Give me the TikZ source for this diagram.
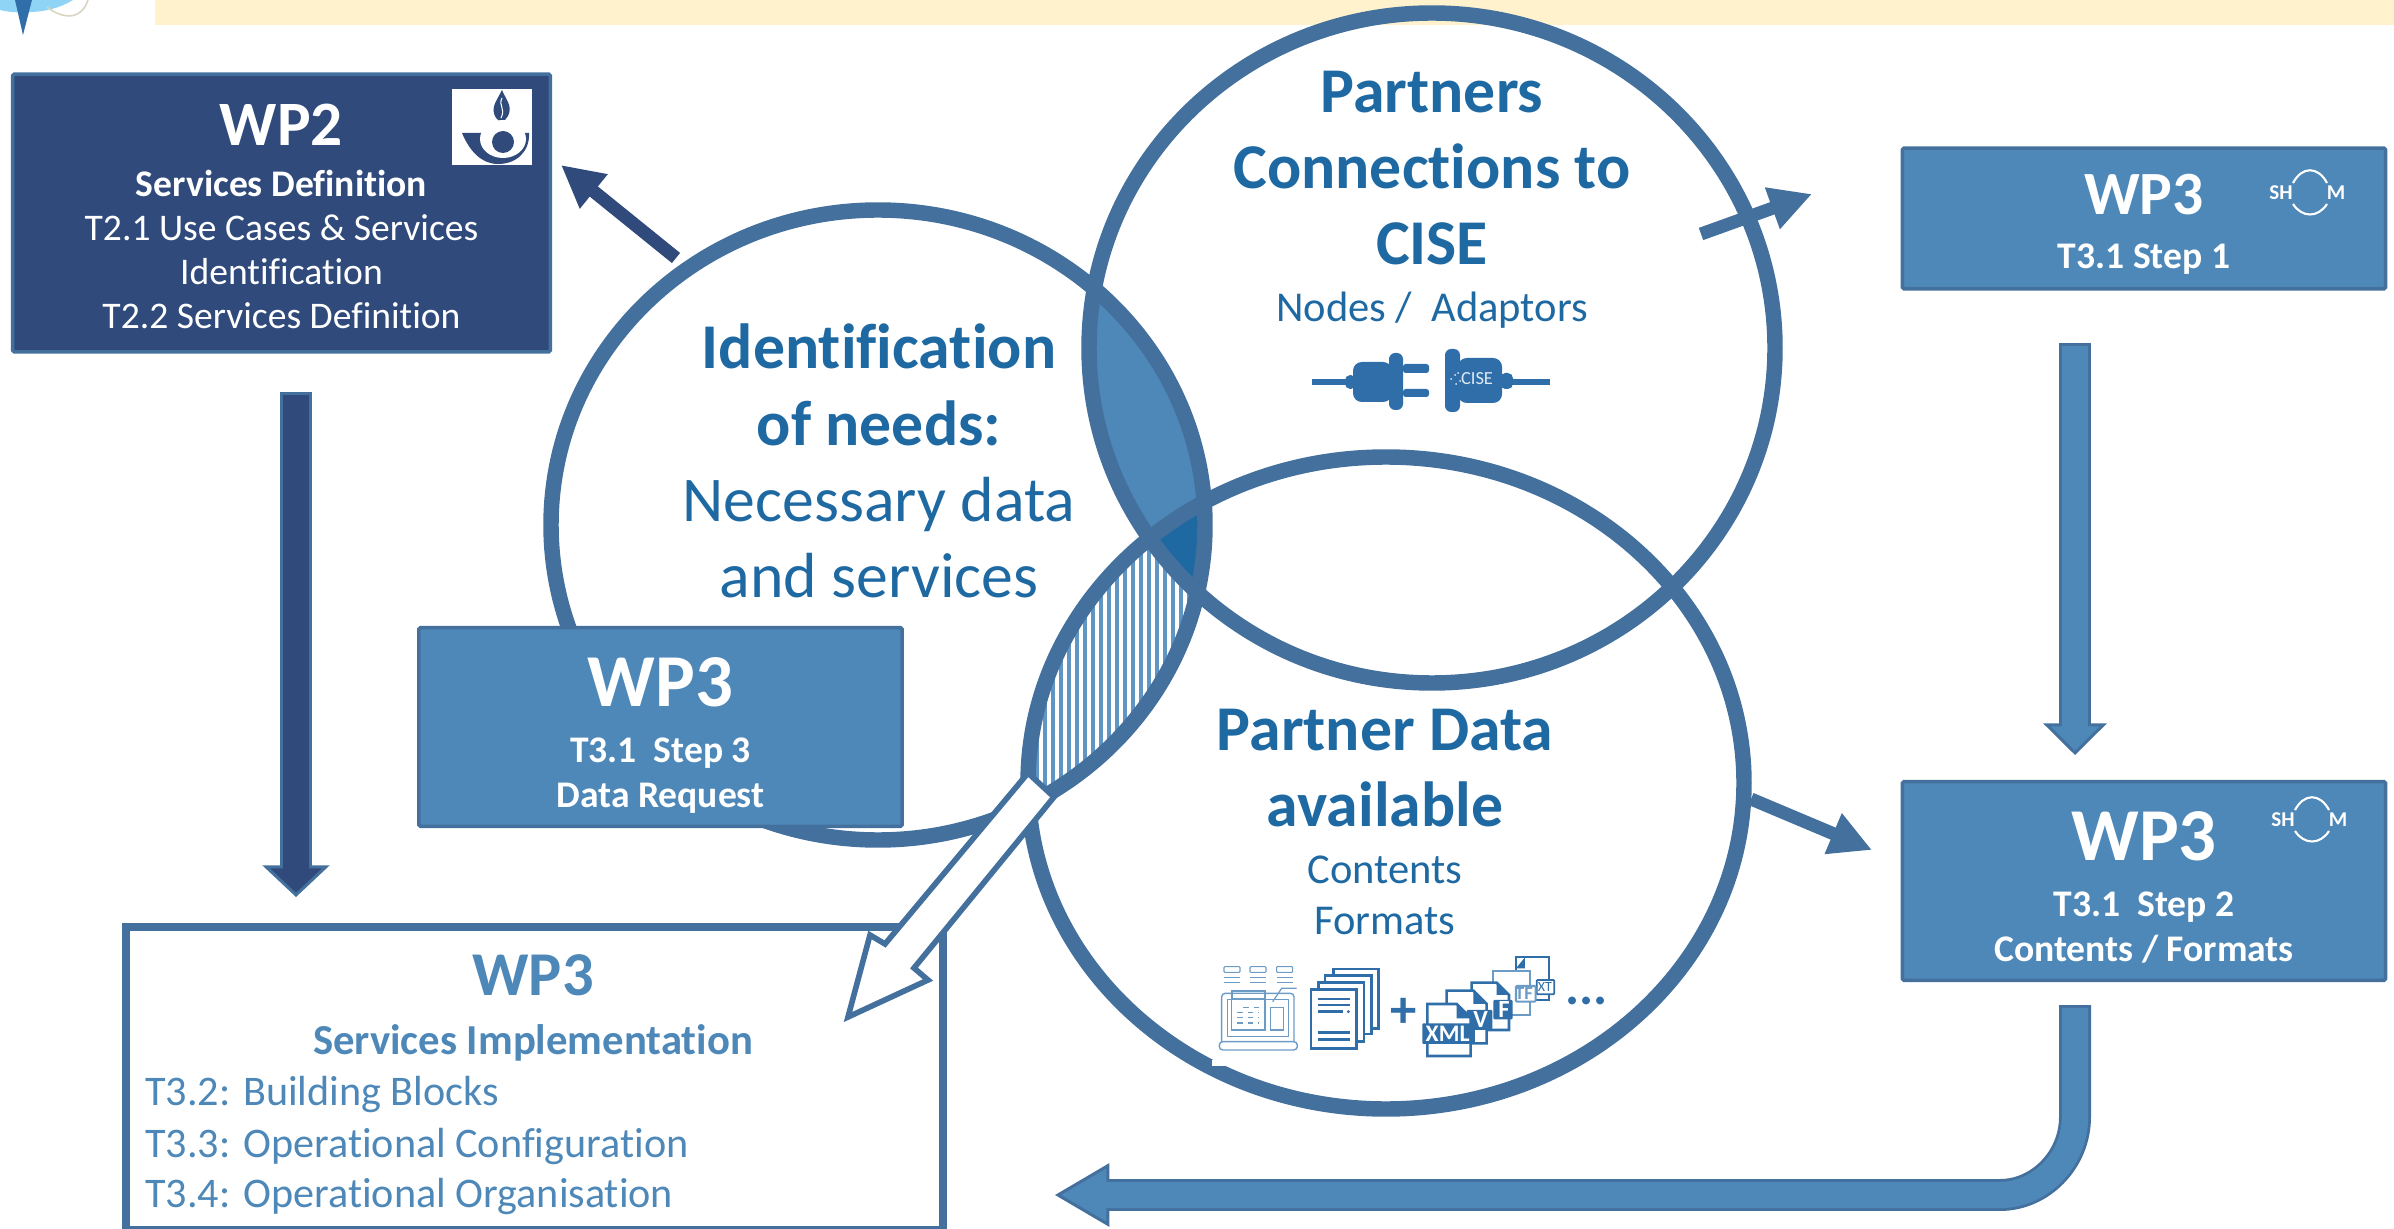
\documentclass[tikz,border=0pt]{standalone}
\usepackage{fontspec}
\setmainfont{Carlito}[Ligatures=NoCommon]
\usepackage{xcolor}
\usetikzlibrary{arrows.meta,positioning}

\definecolor{navybox}{HTML}{304A7B}
\definecolor{steelbox}{HTML}{4E88B8}
\definecolor{ringblue}{HTML}{44709E}
\definecolor{titleblue}{HTML}{1F69A3}
\definecolor{iconblue}{HTML}{2F6EA8}
\definecolor{hatchblue}{HTML}{5F96C3}
\definecolor{paleicon}{HTML}{6C9CC6}
\definecolor{bandyellow}{HTML}{FFF2CC}
\definecolor{globeblue}{HTML}{8FD4F5}
\definecolor{orbitgrey}{HTML}{D8D4C0}

\tikzset{
    wpbox/.style={draw=ringblue,line width=2pt,fill=steelbox,rounded corners=0.8pt,inner sep=0pt},
    boxtext/.style={white,align=center,inner sep=0pt,font=\fontsize{21.4pt}{25pt}\selectfont},
    ringline/.style={draw=ringblue,line width=8.8pt},
    ringtext/.style={titleblue,align=center,inner sep=0pt,font=\fontsize{36.3pt}{43.4pt}\selectfont},
    smalltext/.style={titleblue,align=center,inner sep=0pt,font=\fontsize{24.2pt}{29pt}\selectfont},
    implline/.style={steelbox,anchor=base west,inner sep=0pt,font=\fontsize{24pt}{25pt}\selectfont},
    slimarrow/.style={line width=7.4pt,-{Triangle[length=24pt,width=23.5pt]}},
    hatchline/.style={hatchblue,line width=2.3pt},
    filepage/.style={draw=iconblue,fill=white,line width=1.5pt},
    filetag/.style={fill=iconblue,rounded corners=0.6pt},
    tagtext/.style={white,inner sep=0pt,font=\bfseries\fontsize{13.5pt}{14pt}\selectfont}
}

% ellipses of the three topics
\def\needsring{(878,525) ellipse [x radius=327, y radius=315]}
\def\partnerring{(1432,348) ellipse [x radius=343, y radius=335]}
\def\dataring{(1386,783) ellipse [x radius=358, y radius=326]}

% fill, edge, head length, head width, path
\newcommand{\blockarrow}[5]{
    \draw[#2,line width=18.2pt,-{Triangle[length=#3,width=#4,line width=1.7pt,fill=#1]}] #5;
    \draw[#1,line width=15pt,shorten <=1.6pt,shorten >=#3-3pt] #5;
}

% page with a folded corner: left, top, right, bottom, fold
\newcommand{\docpage}[6][filepage]{
    \draw[#1] (#2,#3) -- (#4-#6,#3) -- (#4,#3+#6) -- (#4,#5) -- (#2,#5) -- cycle;
}

\newcommand{\shomlogo}[3]{
    \node[white,inner sep=0pt,font=\bfseries\fontsize{12pt}{12pt}\selectfont] (#1s) at (#2-29,#3+1) {SH};
    \node[white,inner sep=0pt,font=\bfseries\fontsize{12pt}{12pt}\selectfont] (#1m) at (#2+26,#3+1) {M};
    \draw[white,line width=1.2pt] (#2-17,#3-9) .. controls (#2-8,#3-26) and (#2+8,#3-26) .. (#2+17,#3-9);
    \draw[white,line width=1.2pt] (#2-17,#3+12) .. controls (#2-8,#3+26) and (#2+8,#3+26) .. (#2+17,#3+12);
}

\begin{document}
\begin{tikzpicture}[x=0.02cm,y=-0.02cm]
    \useasboundingbox (0,0) rectangle (2394,1229);

    % top band and the piece of logo
    \fill[bandyellow] (155,0) rectangle (2394,25);
    \fill[globeblue] (0,0) -- (73,0) .. controls (60,8) and (45,12) .. (28,12) .. controls (18,13) and (8,12) .. (0,10) -- cycle;
    \draw[orbitgrey,line width=0.9pt] (47,7) .. controls (58,16) and (80,24) .. (88,0);
    \fill[iconblue] (15,0) -- (32,0) -- (23,35) -- cycle;

    % the regions where topics overlap
    \begin{scope}
        \clip \needsring;
        \clip \dataring;
        \foreach \hx in {1012.7,1020.7,...,1212} {
            \draw[hatchline] (\hx,500) -- (\hx,800);
        }
    \end{scope}
    \begin{scope}
        \clip \needsring;
        \clip \partnerring;
        \fill[steelbox] (1000,200) rectangle (1300,700);
        \clip \dataring;
        \fill[titleblue] (1000,200) rectangle (1300,700);
    \end{scope}

    \draw[ringline] \needsring;
    \draw[ringline] \partnerring;
    \draw[ringline] \dataring;
    \fill[white] (1212,1060) rectangle (1225,1066);

    % boxes
    \node[wpbox,fill=navybox,minimum width=306pt,minimum height=158pt] (wptwo) at (281.5,213) {};
    \node[wpbox,minimum width=275pt,minimum height=80pt] (stepone) at (2144,218.5) {};
    \node[wpbox,minimum width=275pt,minimum height=113pt] (steptwo) at (2144,881) {};
    \node[wpbox,minimum width=275pt,minimum height=113pt] (stepthree) at (660.5,727) {};
    \node[draw=ringblue,fill=white,line width=4.8pt,inner sep=0pt,minimum width=465pt,minimum height=172.4pt] (wpservices) at (534.5,1078.5) {};

    \node[boxtext,below=17.5pt of wptwo.north] (wptwotext) {{\bfseries\fontsize{36pt}{36pt}\selectfont WP2}\\[4.5pt]
        {\bfseries Services Definition}\\T2.1 Use Cases \& Services\\Identification\\T2.2 Services Definition};
    \node[boxtext,below=15.5pt of stepone.north] (steponetext) {{\bfseries\fontsize{35pt}{35pt}\selectfont WP3}\\[6pt]
        {\bfseries T3.1 Step 1}};
    \node[boxtext,below=17.5pt of steptwo.north] (steptwotext) {{\bfseries\fontsize{42.5pt}{42.5pt}\selectfont WP3}\\[7pt]
        {\bfseries T3.1~ Step 2}\\[0.8pt]{\bfseries Contents / Formats}};
    \node[boxtext,below=17.5pt of stepthree.north] (stepthreetext) {{\bfseries\fontsize{42.5pt}{42.5pt}\selectfont WP3}\\[7pt]
        {\bfseries T3.1~ Step 3}\\[0.8pt]{\bfseries Data Request}};

    \node[inner sep=0pt,steelbox,font=\bfseries\fontsize{35.5pt}{36pt}\selectfont] (servicestitle) at (533,975) {WP3};
    \node[inner sep=0pt,steelbox,font=\bfseries\fontsize{24.3pt}{25pt}\selectfont] (servicessub) at (533,1043) {Services Implementation};
    \node[implline] (blocks) at (145,1105) {T3.2: Building Blocks};
    \node[implline] (config) at (145,1157) {T3.3: Operational Configuration};
    \node[implline] (orga) at (145,1207) {T3.4: Operational Organisation};

    % logos in the boxes
    \fill[white] (452,89) rectangle (532,165);
    \fill[navybox] (502,90) .. controls (496,102) and (490,108) .. (496,118) -- (502,124) -- (508,116) .. controls (513,106) and (506,100) .. (502,90);
    \draw[white,line width=0.6pt] (502,98) .. controls (498,106) and (506,108) .. (501,118);
    \fill[navybox] (462,133) .. controls (470,152) and (482,164) .. (498,164) .. controls (518,164) and (530,150) .. (529,133) -- (462,133);
    \fill[white] (503,139) ellipse [x radius=23, y radius=19];
    \fill[navybox] (503,142) circle (11);
    \shomlogo{shomone}{2310}{192}
    \shomlogo{shomtwo}{2312}{819}

    % titles in the topics
    \node[ringtext] (partnerstext) at (1432,168) {{\bfseries Partners}\\{\bfseries Connections to}\\{\bfseries CISE}};
    \node[smalltext] (nodestext) at (1432,310) {Nodes /~ Adaptors};
    \node[ringtext] (needstext) at (879,461) {{\bfseries Identification}\\{\bfseries of needs:}\\Necessary data\\and services};
    \node[ringtext] (datatext) at (1385,768) {{\bfseries Partner Data}\\{\bfseries available}};
    \node[smalltext] (contentstext) at (1385,895) {Contents\\Formats};

    % plugs
    \draw[iconblue,line width=3.6pt] (1312,382) -- (1350,382);
    \fill[iconblue,rounded corners=3pt] (1345,375) rectangle (1356,389);
    \fill[iconblue,rounded corners=5pt] (1353,362) rectangle (1392,402);
    \fill[iconblue,rounded corners=3.5pt] (1389,353) rectangle (1403,410);
    \fill[iconblue,rounded corners=1.5pt] (1403,364) rectangle (1429,373);
    \fill[iconblue,rounded corners=1.5pt] (1403,389) rectangle (1429,397);
    \draw[iconblue,line width=3.6pt] (1510,382) -- (1550,382);
    \fill[iconblue,rounded corners=3pt] (1500,373) rectangle (1513,389);
    \fill[iconblue,rounded corners=3.5pt] (1445,349) rectangle (1460,412);
    \fill[iconblue,rounded corners=5pt] (1458,358) rectangle (1502,403);
    \node[white!85!iconblue,inner sep=0pt,font=\fontsize{10.5pt}{11pt}\selectfont] (cisetext) at (1477,379) {CISE};
    \foreach \sx/\sy in {1451/379,1455/375,1458/373,1460/381,1456/384} {
        \fill[white!85!iconblue] (\sx,\sy) circle (1);
    }

    % laptop and pile of documents
    \begin{scope}[shift={(1150,900)},scale=0.3333]
        \foreach \bx in {222,300,380} {
            \draw[paleicon,line width=0.6pt,rounded corners=0.5pt] (\bx,200) rectangle (\bx+48,217);
            \draw[paleicon,line width=0.6pt] (\bx,232) -- (\bx+48,232);
            \draw[paleicon,line width=0.6pt] (\bx,247) -- (\bx+48,247);
        }
        \draw[paleicon,line width=0.8pt,rounded corners=2pt] (215,425) -- (215,280) -- (432,280) -- (432,425);
        \draw[paleicon,line width=0.8pt] (232,298) rectangle (415,410);
        \draw[paleicon,line width=0.8pt,fill=white,rounded corners=2pt] (208,425) rectangle (442,450);
        \draw[paleicon,line width=0.8pt,fill=white] (245,280) rectangle (345,390);
        \draw[paleicon,line width=1.2pt] (245,272) -- (345,272) -- (345,296) -- (245,296) -- cycle;
        \draw[paleicon,line width=0.8pt] (362,322) rectangle (400,390);
        \draw[paleicon,line width=0.7pt] (368,305) -- (395,265) -- (440,265);
        \foreach \ly/\lx in {322/280,338/262,353/262,369/262} {
            \draw[paleicon,line width=0.6pt,dashed] (\lx,\ly) -- (328,\ly);
        }
        \draw[filepage] (550,207) rectangle (685,385);
        \draw[filepage] (525,227) rectangle (665,402);
        \draw[filepage] (505,247) rectangle (642,425);
        \draw[filepage] (483,268) rectangle (620,445);
        \foreach \ly in {297,315,397,418} {
            \draw[iconblue,line width=1.5pt] (503,\ly) -- (600,\ly);
        }
        \draw[iconblue,line width=1.5pt] (503,335) -- (580,335);
        \fill[iconblue] (595,335) circle (5);
        \node[iconblue,inner sep=0pt,font=\bfseries\fontsize{30pt}{30pt}\selectfont] (plussign) at (762,338) {+};
        \node[iconblue,inner sep=0pt,font=\bfseries\fontsize{30pt}{30pt}\selectfont] (moredots) at (1310,304) {...};

        \docpage[draw=iconblue,fill=white,line width=1.2pt]{1098}{172}{1197}{300}{0}
        \fill[iconblue] (1098,205) -- (1125,172) -- (1125,205) -- cycle;
        \draw[iconblue,fill=white,line width=1pt,rounded corners=0.6pt] (1160,240) rectangle (1213,283);
        \node[iconblue,inner sep=0pt,font=\fontsize{8pt}{8pt}\selectfont] (txttag) at (1185,262) {XT};
        \docpage[draw=paleicon,fill=white,line width=1.2pt]{1030}{212}{1140}{345}{0}
        \draw[paleicon,fill=white,line width=1.2pt,rounded corners=0.6pt] (1098,258) rectangle (1157,305);
        \node[paleicon,inner sep=0pt,font=\bfseries\fontsize{10.5pt}{11pt}\selectfont] (tftag) at (1122,282) {TF};
        \docpage{965}{248}{1077}{390}{37}
        \fill[iconblue] (1040,248) -- (1077,285) -- (1040,285) -- cycle;
        \fill[filetag] (1030,300) rectangle (1088,358);
        \node[tagtext,font=\bfseries\fontsize{14pt}{14pt}\selectfont] (rtftag) at (1062,328) {F};
        \docpage{890}{272}{1010}{430}{40}
        \fill[iconblue] (970,272) -- (1010,312) -- (970,312) -- cycle;
        \fill[filetag] (950,330) rectangle (1027,390);
        \node[tagtext,font=\bfseries\fontsize{14pt}{14pt}\selectfont] (csvtag) at (992,360) {V};
        \docpage{832}{312}{962}{468}{42}
        \fill[iconblue] (920,312) -- (962,355) -- (920,355) -- cycle;
        \fill[filetag] (817,370) rectangle (975,432);
        \node[tagtext] (xmltag) at (893,400) {XML};
    \end{scope}

    % connectors
    \coordinate (needsout) at (676,258);
    \coordinate (wptwoin) at (561,165);
    \coordinate (partnerout) at (1701,234);
    \coordinate (steponein) at (1812,194);
    \coordinate (dataout) at (1751,799);
    \coordinate (steptwoin) at (1872,850);
    \draw[navybox,slimarrow] (needsout) -- (wptwoin);
    \draw[ringblue,slimarrow] (partnerout) -- (steponein);
    \draw[ringblue,slimarrow] (dataout) -- (steptwoin);

    \coordinate (wptwoout) at (296,392);
    \coordinate (servicesin) at (296,897);
    \blockarrow{navybox}{ringblue}{18pt}{38pt}{(wptwoout) -- (servicesin)}
    \coordinate (steponeout) at (2075,343);
    \coordinate (steptwotop) at (2075,755);
    \blockarrow{steelbox}{ringblue}{18pt}{36pt}{(steponeout) -- (steptwotop)}
    \coordinate (steptwoout) at (2075,1005);
    \coordinate (bendin) at (2075,1117);
    \coordinate (bendout) at (2000,1195);
    \coordinate (servicesright) at (1055,1195);
    \blockarrow{steelbox}{ringblue}{31pt}{36pt}{(steptwoout) -- (bendin) .. controls (2075,1160) and (2040,1195) .. (bendout) -- (servicesright)}

    % hollow pointer from the hatched part to the services
    \draw[draw=ringblue,fill=white,line width=3.2pt,line join=miter]
        (1028,773) -- (1054,797) -- (914,968) -- (928,980) -- (848,1017) -- (870,935) -- (885,944) -- cycle;
\end{tikzpicture}
\end{document}
